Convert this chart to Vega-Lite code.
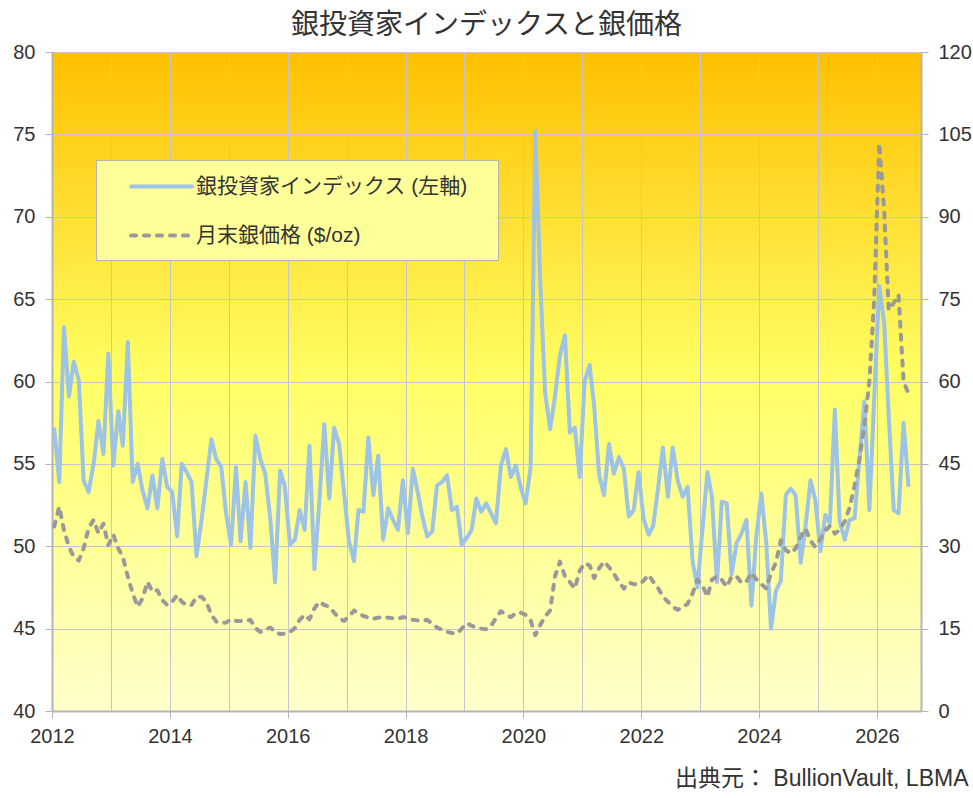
{
"$schema": "https://vega.github.io/schema/vega-lite/v6.json",
"width": 869,
"height": 659,
"autosize": "none",
"padding": {"left": 52, "top": 52, "right": 52, "bottom": 87},
"background": "white",
"title": {"text": "銀投資家インデックスと銀価格", "fontSize": 28, "fontWeight": "normal", "color": "#333333", "anchor": "middle", "baseline": "alphabetic", "offset": 17, "dy": 37},
"data": {"values": [
{"date":"2012-01-15","index":57.1,"price":33.6},{"date":"2012-02-15","index":53.9,"price":37.2},{"date":"2012-03-15","index":63.3,"price":33.0},{"date":"2012-04-15","index":59.1,"price":29.9},{"date":"2012-05-15","index":61.2,"price":28.1},{"date":"2012-06-15","index":60.1,"price":27.4},{"date":"2012-07-15","index":54.0,"price":29.6},{"date":"2012-08-15","index":53.3,"price":33.3},{"date":"2012-09-15","index":55.0,"price":34.8},{"date":"2012-10-15","index":57.6,"price":32.4},{"date":"2012-11-15","index":55.6,"price":34.1},{"date":"2012-12-15","index":61.7,"price":30.2},
{"date":"2013-01-15","index":54.9,"price":32.1},{"date":"2013-02-15","index":58.2,"price":29.6},{"date":"2013-03-15","index":56.1,"price":28.1},{"date":"2013-04-15","index":62.4,"price":24.5},{"date":"2013-05-15","index":53.9,"price":21.4},{"date":"2013-06-15","index":55.0,"price":19.0},{"date":"2013-07-15","index":53.4,"price":20.5},{"date":"2013-08-15","index":52.3,"price":23.5},{"date":"2013-09-15","index":54.3,"price":21.7},{"date":"2013-10-15","index":52.3,"price":22.0},{"date":"2013-11-15","index":55.3,"price":20.2},{"date":"2013-12-15","index":53.6,"price":19.3},
{"date":"2014-01-15","index":53.3,"price":19.9},{"date":"2014-02-15","index":50.6,"price":21.1},{"date":"2014-03-15","index":55.0,"price":19.9},{"date":"2014-04-15","index":54.5,"price":19.3},{"date":"2014-05-15","index":53.9,"price":19.3},{"date":"2014-06-15","index":49.4,"price":20.8},{"date":"2014-07-15","index":51.5,"price":20.8},{"date":"2014-08-15","index":54.0,"price":19.9},{"date":"2014-09-15","index":56.5,"price":17.5},{"date":"2014-10-15","index":55.3,"price":16.3},{"date":"2014-11-15","index":54.8,"price":16.0},{"date":"2014-12-15","index":52.0,"price":16.1},
{"date":"2015-01-15","index":50.1,"price":16.7},{"date":"2015-02-15","index":54.8,"price":16.4},{"date":"2015-03-15","index":50.3,"price":16.4},{"date":"2015-04-15","index":53.9,"price":16.4},{"date":"2015-05-15","index":49.9,"price":16.6},{"date":"2015-06-15","index":56.7,"price":15.1},{"date":"2015-07-15","index":55.3,"price":14.4},{"date":"2015-08-15","index":54.4,"price":14.8},{"date":"2015-09-15","index":51.7,"price":15.2},{"date":"2015-10-15","index":47.8,"price":14.4},{"date":"2015-11-15","index":54.6,"price":14.0},{"date":"2015-12-15","index":53.6,"price":14.1},
{"date":"2016-01-15","index":50.1,"price":14.4},{"date":"2016-02-15","index":50.4,"price":15.1},{"date":"2016-03-15","index":52.2,"price":16.6},{"date":"2016-04-15","index":51.0,"price":17.5},{"date":"2016-05-15","index":56.1,"price":16.7},{"date":"2016-06-15","index":48.6,"price":18.7},{"date":"2016-07-15","index":52.7,"price":19.9},{"date":"2016-08-15","index":57.4,"price":19.3},{"date":"2016-09-15","index":52.9,"price":19.0},{"date":"2016-10-15","index":57.2,"price":17.9},{"date":"2016-11-15","index":56.2,"price":16.9},{"date":"2016-12-15","index":53.3,"price":16.4},
{"date":"2017-01-15","index":50.3,"price":17.2},{"date":"2017-02-15","index":49.1,"price":18.3},{"date":"2017-03-15","index":52.2,"price":17.8},{"date":"2017-04-15","index":52.1,"price":17.3},{"date":"2017-05-15","index":56.6,"price":17.0},{"date":"2017-06-15","index":53.1,"price":16.8},{"date":"2017-07-15","index":55.5,"price":17.0},{"date":"2017-08-15","index":50.4,"price":17.1},{"date":"2017-09-15","index":52.3,"price":17.0},{"date":"2017-10-15","index":51.6,"price":16.9},{"date":"2017-11-15","index":51.0,"price":16.8},{"date":"2017-12-15","index":54.0,"price":17.1},
{"date":"2018-01-15","index":50.8,"price":16.9},{"date":"2018-02-15","index":54.7,"price":16.6},{"date":"2018-03-15","index":53.4,"price":16.5},{"date":"2018-04-15","index":51.8,"price":16.4},{"date":"2018-05-15","index":50.6,"price":16.6},{"date":"2018-06-15","index":50.9,"price":15.9},{"date":"2018-07-15","index":53.7,"price":15.2},{"date":"2018-08-15","index":53.9,"price":14.8},{"date":"2018-09-15","index":54.3,"price":14.4},{"date":"2018-10-15","index":52.2,"price":14.2},{"date":"2018-11-15","index":52.4,"price":14.1},{"date":"2018-12-15","index":50.1,"price":15.0},
{"date":"2019-01-15","index":50.5,"price":16.0},{"date":"2019-02-15","index":51.0,"price":15.5},{"date":"2019-03-15","index":52.9,"price":15.2},{"date":"2019-04-15","index":52.1,"price":15.0},{"date":"2019-05-15","index":52.6,"price":14.9},{"date":"2019-06-15","index":52.0,"price":15.5},{"date":"2019-07-15","index":51.4,"price":16.9},{"date":"2019-08-15","index":54.9,"price":18.2},{"date":"2019-09-15","index":55.9,"price":17.5},{"date":"2019-10-15","index":54.2,"price":17.1},{"date":"2019-11-15","index":54.9,"price":17.8},{"date":"2019-12-15","index":53.6,"price":17.9},
{"date":"2020-01-15","index":52.6,"price":17.5},{"date":"2020-02-15","index":54.8,"price":16.5},{"date":"2020-03-15","index":75.2,"price":13.8},{"date":"2020-04-15","index":66.0,"price":15.7},{"date":"2020-05-15","index":59.3,"price":17.2},{"date":"2020-06-15","index":57.1,"price":18.3},{"date":"2020-07-15","index":59.1,"price":24.5},{"date":"2020-08-15","index":61.6,"price":27.2},{"date":"2020-09-15","index":62.8,"price":24.5},{"date":"2020-10-15","index":56.9,"price":23.5},{"date":"2020-11-15","index":57.2,"price":22.3},{"date":"2020-12-15","index":54.2,"price":25.5},
{"date":"2021-01-15","index":60.0,"price":26.9},{"date":"2021-02-15","index":61.0,"price":26.5},{"date":"2021-03-15","index":58.5,"price":24.2},{"date":"2021-04-15","index":54.3,"price":26.0},{"date":"2021-05-15","index":53.1,"price":27.2},{"date":"2021-06-15","index":56.2,"price":26.2},{"date":"2021-07-15","index":54.4,"price":25.0},{"date":"2021-08-15","index":55.4,"price":23.5},{"date":"2021-09-15","index":54.7,"price":22.3},{"date":"2021-10-15","index":51.8,"price":23.4},{"date":"2021-11-15","index":52.2,"price":23.1},{"date":"2021-12-15","index":54.5,"price":23.0},
{"date":"2022-01-15","index":51.7,"price":23.7},{"date":"2022-02-15","index":50.7,"price":24.8},{"date":"2022-03-15","index":51.2,"price":23.6},{"date":"2022-04-15","index":53.5,"price":22.4},{"date":"2022-05-15","index":56.0,"price":20.8},{"date":"2022-06-15","index":53.0,"price":19.9},{"date":"2022-07-15","index":56.0,"price":19.0},{"date":"2022-08-15","index":54.0,"price":18.4},{"date":"2022-09-15","index":53.0,"price":19.0},{"date":"2022-10-15","index":53.6,"price":19.5},{"date":"2022-11-15","index":49.1,"price":21.4},{"date":"2022-12-15","index":47.5,"price":23.9},
{"date":"2023-01-15","index":51.0,"price":22.9},{"date":"2023-02-15","index":54.5,"price":20.8},{"date":"2023-03-15","index":53.0,"price":23.9},{"date":"2023-04-15","index":47.8,"price":24.5},{"date":"2023-05-15","index":52.7,"price":23.9},{"date":"2023-06-15","index":52.6,"price":22.6},{"date":"2023-07-15","index":48.3,"price":24.5},{"date":"2023-08-15","index":50.2,"price":24.5},{"date":"2023-09-15","index":50.8,"price":23.3},{"date":"2023-10-15","index":51.6,"price":23.6},{"date":"2023-11-15","index":46.4,"price":25.2},{"date":"2023-12-15","index":50.6,"price":24.0},
{"date":"2024-01-15","index":53.2,"price":23.1},{"date":"2024-02-15","index":50.2,"price":22.3},{"date":"2024-03-15","index":45.0,"price":25.1},{"date":"2024-04-15","index":47.3,"price":27.0},{"date":"2024-05-15","index":47.9,"price":31.1},{"date":"2024-06-15","index":53.1,"price":29.3},{"date":"2024-07-15","index":53.5,"price":28.7},{"date":"2024-08-15","index":53.1,"price":29.6},{"date":"2024-09-15","index":49.0,"price":31.7},{"date":"2024-10-15","index":51.2,"price":33.2},{"date":"2024-11-15","index":54.0,"price":31.0},{"date":"2024-12-15","index":52.8,"price":29.9},
{"date":"2025-01-15","index":49.7,"price":31.3},{"date":"2025-02-15","index":51.9,"price":32.9},{"date":"2025-03-15","index":51.4,"price":33.7},{"date":"2025-04-15","index":58.3,"price":32.3},{"date":"2025-05-15","index":51.5,"price":33.0},{"date":"2025-06-15","index":50.4,"price":34.5},{"date":"2025-07-15","index":51.6,"price":37.0},{"date":"2025-08-15","index":51.7,"price":41.0},{"date":"2025-09-15","index":55.3,"price":46.0},{"date":"2025-10-15","index":58.8,"price":52.0},{"date":"2025-11-15","index":52.2,"price":60.0},{"date":"2025-12-15","index":59.0,"price":75.0},
{"date":"2026-01-15","index":65.8,"price":103.4},{"date":"2026-02-15","index":63.5,"price":91.0},{"date":"2026-03-15","index":57.9,"price":73.0},{"date":"2026-04-15","index":52.2,"price":74.3},{"date":"2026-05-15","index":52.0,"price":75.8},{"date":"2026-06-15","index":57.5,"price":60.0},{"date":"2026-07-15","index":53.7,"price":57.8}
]},
"encoding": {
  "x": {"field": "date", "type": "temporal",
    "scale": {"domain": [{"year": 2012, "month": 1, "date": 1}, {"year": 2026, "month": 10, "date": 1}]},
    "axis": {
      "values": [{"year":2012},{"year":2013},{"year":2014},{"year":2015},{"year":2016},{"year":2017},{"year":2018},{"year":2019},{"year":2020},{"year":2021},{"year":2022},{"year":2023},{"year":2024},{"year":2025},{"year":2026}],
      "labelExpr": "year(datum.value) % 2 === 0 ? timeFormat(datum.value, '%Y') : ''",
      "labelOverlap": false,
      "labelFlush": false,
      "labelPadding": 8,
      "tickOpacity": {"condition": {"test": "year(datum.value) % 2 === 0", "value": 1}, "value": 0},
      "title": "出典元： BullionVault, LBMA",
      "titleFontSize": 23,
      "titleFontWeight": "normal",
      "titleColor": "#333333",
      "titleAlign": "right",
      "titleBaseline": "middle",
      "titleX": 916,
      "titleY": 67
    }
  }
},
"layer": [
  {
    "mark": {"type": "line", "strokeWidth": 4, "strokeJoin": "round", "strokeCap": "round"},
    "encoding": {
      "y": {"field": "index", "type": "quantitative",
        "scale": {"domain": [40, 80], "nice": false, "zero": false},
        "axis": {"orient": "left", "values": [40,45,50,55,60,65,70,75,80], "title": null, "grid": true}},
      "color": {"datum": "銀投資家インデックス (左軸)", "type": "nominal",
        "scale": {"domain": ["銀投資家インデックス (左軸)", "月末銀価格 ($/oz)"], "range": ["#9DC3E6", "#999999"]},
        "legend": {"title": " ", "titleOrient": "right", "titlePadding": 16, "titleFontSize": 1, "orient": "none", "legendX": 44, "legendY": 108, "fillColor": "#FFFF99", "strokeColor": "#B4B4B4", "padding": 14, "rowPadding": 26, "symbolType": "M-3,0H3", "symbolSize": 413, "symbolStrokeWidth": 4, "symbolOffset": 39, "labelOffset": 22, "labelFontSize": 21, "labelColor": "#333333", "labelLimit": 500, "encode": {"symbols": {"update": {"strokeCap": {"value": "round"}}}}}},
      "strokeDash": {"datum": "銀投資家インデックス (左軸)", "type": "nominal",
        "scale": {"domain": ["銀投資家インデックス (左軸)", "月末銀価格 ($/oz)"], "range": [[1, 0], [5, 8]]},
        "legend": {"title": " ", "titleOrient": "right", "titlePadding": 16, "titleFontSize": 1, "orient": "none", "legendX": 44, "legendY": 108, "fillColor": "#FFFF99", "strokeColor": "#B4B4B4", "padding": 14, "rowPadding": 26, "symbolType": "M-3,0H3", "symbolSize": 413, "symbolStrokeWidth": 4, "symbolOffset": 39, "labelOffset": 22, "labelFontSize": 21, "labelColor": "#333333", "labelLimit": 500, "encode": {"symbols": {"update": {"strokeCap": {"value": "round"}}}}}}
    }
  },
  {
    "mark": {"type": "line", "strokeWidth": 4, "strokeJoin": "round", "strokeCap": "round"},
    "encoding": {
      "y": {"field": "price", "type": "quantitative",
        "scale": {"domain": [0, 120], "nice": false},
        "axis": {"orient": "right", "values": [0,15,30,45,60,75,90,105,120], "title": null, "grid": false}},
      "color": {"datum": "月末銀価格 ($/oz)", "type": "nominal"},
      "strokeDash": {"datum": "月末銀価格 ($/oz)", "type": "nominal"}
    }
  }
],
"resolve": {"scale": {"y": "independent"}},
"config": {
  "font": "Liberation Sans, Noto Sans CJK JP, sans-serif",
  "view": {"stroke": null, "fill": {"gradient": "linear", "x1": 0, "y1": 0, "x2": 0, "y2": 1, "stops": [{"offset": 0, "color": "#FFC000"}, {"offset": 0.5, "color": "#FFFF66"}, {"offset": 1, "color": "#FFFFCC"}]}},
  "axis": {"labelFontSize": 20, "labelColor": "#333333", "labelFont": "Liberation Sans, Noto Sans CJK JP, sans-serif", "titleFont": "Liberation Sans, Noto Sans CJK JP, sans-serif", "domainColor": "#B4B4B4", "domainWidth": 2, "tickColor": "#B4B4B4", "tickWidth": 1, "tickSize": 7, "gridColor": "#C4C4CC", "gridWidth": 1, "gridOpacity": 1, "labelPadding": 10},
  "legend": {"labelFont": "Liberation Sans, Noto Sans CJK JP, sans-serif"},
  "title": {"font": "Liberation Sans, Noto Sans CJK JP, sans-serif"}
}
}
